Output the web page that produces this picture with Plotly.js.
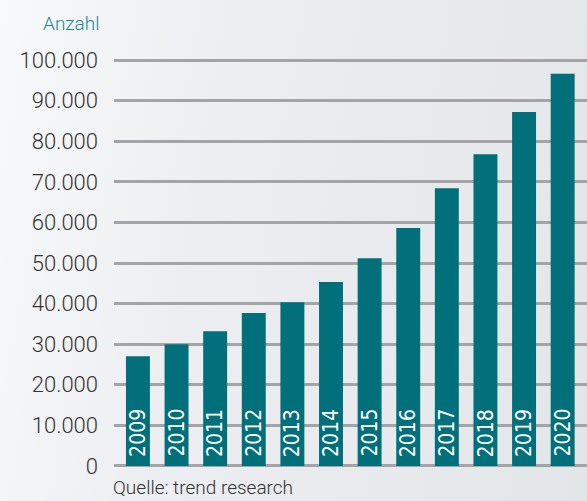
<!DOCTYPE html>
<html>
<head>
<meta charset="utf-8">
<script src="https://cdn.plot.ly/plotly-3.0.1.min.js"></script>
<style>
html,body{margin:0;padding:0;}
body{width:587px;height:501px;background:linear-gradient(100deg,#f8f9fa 0%,#eceef1 35%,#e3e6e9 100%);overflow:hidden;}
#chart{width:587px;height:501px;}
</style>
</head>
<body>
<div id="chart"></div>
<script>
const years = ["2009","2010","2011","2012","2013","2014","2015","2016","2017","2018","2019","2020"];
const counts = [27000, 30000, 33200, 37700, 40300, 45300, 51200, 58600, 68400, 76800, 87200, 96600];
const yTicks = [0,10000,20000,30000,40000,50000,60000,70000,80000,90000,100000];

const W = 587, H = 501, mL = 114, mR = 0, mT = 56, mB = 31;
const plotH = H - mT - mB, plotW = W - mL - mR;

const trace = {
  type: 'bar',
  x: years,
  y: counts,
  marker: {color: '#01707b', line: {width: 0}},
  hoverinfo: 'skip'
};

const yearLabels = years.map(function (yr, i) {
  return {
    text: yr, x: i, y: 0, xref: 'x', yref: 'y',
    xanchor: 'center', yanchor: 'bottom', yshift: 7,
    textangle: -90, showarrow: false,
    font: {family: '"DejaVu Sans Condensed", sans-serif', size: 21, color: '#ffffff'}
  };
});

const layout = {
  width: W, height: H,
  margin: {l: mL, r: mR, t: mT, b: mB, pad: 0},
  paper_bgcolor: 'rgba(0,0,0,0)',
  plot_bgcolor: 'rgba(0,0,0,0)',
  separators: ',.',
  showlegend: false,
  bargap: 0.38,
  font: {family: 'Roboto, sans-serif', color: '#333333'},
  xaxis: {
    type: 'category',
    range: [-0.62, 11.63],
    showticklabels: false,
    showgrid: false,
    zeroline: false,
    showline: false,
    ticks: ''
  },
  yaxis: {
    range: [-1000, 101000],
    tickvals: yTicks,
    tickformat: ',d',
    showgrid: true,
    gridcolor: '#a3a4a8',
    gridwidth: 3,
    zeroline: true,
    zerolinecolor: '#a3a4a8',
    zerolinewidth: 3,
    showline: false,
    ticks: '',
    ticklabelstandoff: 15,
    tickfont: {family: 'Roboto, sans-serif', size: 22, color: '#333333', weight: 300}
  },
  annotations: yearLabels.concat([
    {
      text: 'Anzahl', xref: 'paper', yref: 'paper',
      x: (101 - mL) / plotW, y: (H - mB - 23) / plotH,
      xanchor: 'right', yanchor: 'middle', showarrow: false,
      font: {family: 'Roboto, sans-serif', size: 19, color: '#1c8893', weight: 300}
    },
    {
      text: 'Quelle: trend research', xref: 'paper', yref: 'paper',
      x: (111 - mL) / plotW, y: -(501 - (H - mB)) / plotH,
      xanchor: 'left', yanchor: 'bottom', showarrow: false,
      font: {family: 'Roboto, sans-serif', size: 19, color: '#333333', weight: 300}
    }
  ])
};

Plotly.newPlot('chart', [trace], layout, {displayModeBar: false, staticPlot: true});
</script>
</body>
</html>
